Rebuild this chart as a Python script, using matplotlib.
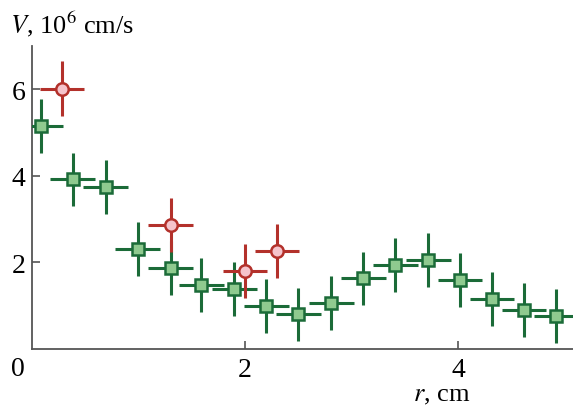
import matplotlib

matplotlib.use("Agg")
import matplotlib.pyplot as plt

# green squares
r_green = [0.08, 0.38, 0.69, 0.99, 1.30, 1.59, 1.90, 2.20, 2.50, 2.81, 3.11, 3.41, 3.72, 4.02, 4.32, 4.62, 4.92]
v_green = [5.15, 3.92, 3.74, 2.31, 1.87, 1.48, 1.39, 0.99, 0.80, 1.06, 1.63, 1.94, 2.06, 1.59, 1.15, 0.90, 0.77]
r_green_err = 0.21
v_green_err = 0.62

# red circles
r_red = [0.28, 1.30, 2.00, 2.30]
v_red = [6.02, 2.87, 1.80, 2.26]
r_red_err = 0.21
v_red_err = 0.63

GREEN = "#1b6b38"
GREEN_FILL = "#8fca8f"
RED = "#b3312b"
RED_FILL = "#f5c4cc"

plt.rcParams["font.family"] = ["Liberation Serif", "DejaVu Serif"]
plt.rcParams["mathtext.fontset"] = "stix"

fig = plt.figure(figsize=(5.73, 4.10), dpi=100)
ax = fig.add_axes([0.056, 0.1463, 0.944, 0.7387])

ax.errorbar(r_green, v_green, xerr=r_green_err, yerr=v_green_err, fmt="s",
            color=GREEN, mfc=GREEN_FILL, mec=GREEN, ms=8.5, mew=1.8,
            elinewidth=2.2, capsize=0, zorder=3)
ax.errorbar(r_red, v_red, xerr=r_red_err, yerr=v_red_err, fmt="o",
            color=RED, mfc=RED_FILL, mec=RED, ms=9, mew=1.8,
            elinewidth=2.2, capsize=0, zorder=4)

ax.set_xlim(0, 5.08)
ax.set_ylim(0, 7)
ax.set_xticks([2, 4])
ax.set_yticks([2, 4, 6])
ax.tick_params(direction="in", length=6, width=1.2, color="#555555",
               labelsize=20, pad=6)
ax.tick_params(axis="y", pad=5)
for side in ["top", "right"]:
    ax.spines[side].set_visible(False)
for side in ["left", "bottom"]:
    ax.spines[side].set_color("#555555")
    ax.spines[side].set_linewidth(1.3)

fig.text(0.031, 0.098, "0", fontsize=20, ha="center", va="center")
fig.text(0.017, 0.94, r"$V$, 10$^6$ cm/s", fontsize=19, ha="left", va="center")
fig.text(0.77, 0.035, r"$r$, cm", fontsize=19, ha="center", va="center")

fig.savefig("out.png", dpi=100)
